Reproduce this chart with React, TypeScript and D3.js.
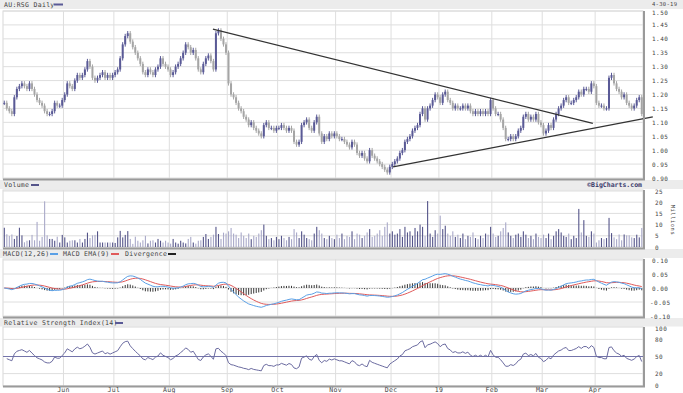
import React from "react";
import * as d3 from "d3";

// ---- Daily closes (AU:RSG) ----
const closeMay = [1.17,1.15,1.14,1.13,1.19,1.22,1.23,1.24,1.23,1.22,1.24,1.22,1.20,1.18,1.17,1.16,1.14,1.13,1.13,1.14,1.17,1.16,1.16,1.18];
const closeJun = [1.20,1.24,1.23,1.22,1.25,1.27,1.26,1.27,1.29,1.32,1.30,1.26,1.25,1.26,1.27,1.28,1.26,1.27,1.26,1.27];
const closeJul = [1.28,1.29,1.33,1.38,1.41,1.42,1.39,1.37,1.35,1.33,1.31,1.28,1.27,1.29,1.28,1.27,1.29,1.30,1.33,1.31,1.30,1.29];
const closeAug = [1.27,1.28,1.30,1.31,1.33,1.35,1.38,1.37,1.35,1.36,1.33,1.29,1.28,1.31,1.33,1.34,1.32,1.29,1.42,1.43,1.40,1.38,1.35];
const closeSep = [1.24,1.20,1.19,1.17,1.15,1.14,1.12,1.11,1.09,1.10,1.08,1.07,1.06,1.05,1.09,1.10,1.08,1.08,1.07,1.08];
const closeOct = [1.08,1.09,1.08,1.07,1.08,1.07,1.03,1.02,1.03,1.09,1.10,1.11,1.08,1.07,1.10,1.12,1.06,1.03,1.05,1.04,1.06,1.05,1.06];
const closeNov = [1.05,1.04,1.04,1.03,1.02,1.01,1.03,1.02,0.99,0.98,0.99,0.97,0.96,1.00,0.98,0.97,0.96,0.95,0.94,0.93,0.92,0.94];
const closeDec = [0.95,0.96,0.97,0.99,1.00,1.03,1.04,1.05,1.07,1.08,1.09,1.13,1.15,1.11,1.15,1.16,1.18,1.20,1.19];
const closeJan = [1.17,1.20,1.21,1.18,1.17,1.15,1.16,1.15,1.15,1.16,1.15,1.16,1.14,1.13,1.14,1.13,1.14,1.13,1.14,1.13,1.18];
const closeFeb = [1.15,1.13,1.13,1.11,1.08,1.04,1.04,1.05,1.04,1.05,1.07,1.08,1.12,1.13,1.11,1.12,1.11,1.13,1.10,1.09];
const closeMar = [1.06,1.07,1.09,1.08,1.11,1.13,1.15,1.16,1.18,1.19,1.17,1.17,1.18,1.19,1.21,1.20,1.22,1.22,1.21,1.24,1.23];
const closeApr = [1.17,1.16,1.16,1.15,1.15,1.26,1.27,1.24,1.22,1.21,1.19,1.20,1.17,1.16,1.15,1.16,1.18,1.19,1.13];

// ---- Daily volume, millions ----
const volMay = [8.6,5.7,4.9,5.6,3.6,4.9,8.6,5.2,2.1,2.8,3.0,5.4,3.0,11.2,2.8,4.5,20.4,5.2,3.6,3.6,2.8,4.6,2.0,5.4];
const volJun = [4.3,2.0,2.8,3.0,3.0,2.0,3.6,2.0,3.6,6.4,4.0,5.2,5.4,7.0,2.0,2.0,2.0,2.0,2.0,2.0];
const volJul = [1.8,4.3,7.2,4.3,5.4,7.1,3.6,1.4,4.6,2.8,2.0,3.0,5.0,1.6,2.8,3.0,2.0,3.6,2.8,2.0,2.8,2.0];
const volAug = [1.5,3.6,2.0,1.5,2.8,2.0,1.6,3.6,4.5,2.0,1.5,2.8,3.0,4.5,5.8,3.6,4.5,5.5,9.0,5.8,3.6,6.4,6.0];
const volSep = [7.0,8.5,6.0,5.5,4.0,6.5,5.0,4.0,6.0,3.5,5.0,4.5,6.0,7.5,10.0,5.0,3.5,4.0,3.0,4.5];
const volOct = [3.5,5.0,4.0,3.0,4.5,3.5,8.0,6.5,4.0,7.0,5.5,4.0,3.5,3.0,6.0,9.0,7.5,6.0,4.0,3.5,5.0,4.0,3.5];
const volNov = [5.5,4.0,6.0,3.5,5.0,4.5,7.0,3.5,6.0,5.5,4.0,5.0,6.5,8.0,4.5,5.0,6.0,7.5,5.0,9.0,11.0,6.0];
const volDec = [7.0,5.5,6.0,8.0,4.5,9.0,6.5,7.0,5.0,8.5,7.0,10.0,9.0,5.0,20.5,6.0,4.5,7.5,6.0];
const volJan = [14.0,8.0,9.5,6.0,5.0,7.0,4.5,5.5,4.0,6.0,3.5,5.0,4.5,6.5,4.0,3.5,5.0,4.0,6.0,5.5,9.0];
const volFeb = [6.0,4.5,5.0,7.0,8.5,11.0,6.5,5.0,4.0,5.5,6.0,4.5,7.0,5.5,4.0,5.0,3.5,6.0,4.5,4.0];
const volMar = [5.5,4.0,6.0,3.5,5.0,7.0,8.0,6.5,5.0,4.5,6.0,3.5,5.0,4.0,17.0,6.5,12.0,5.0,4.5,7.0,6.0];
const volApr = [2.0,3.0,4.0,3.5,4.0,13.0,6.2,4.3,3.5,5.6,3.0,5.6,5.2,5.2,4.3,4.0,5.5,4.3,8.5];

// ---- Axis / tick data ----
const monthLabels = ["Jun", "Jul", "Aug", "Sep", "Oct", "Nov", "Dec", "19", "Feb", "Mar", "Apr"];
const monthStartIdx = [24, 44, 66, 89, 109, 132, 154, 173, 194, 214, 235];
const priceTicks = [1.5, 1.45, 1.4, 1.35, 1.3, 1.25, 1.2, 1.15, 1.1, 1.05, 1.0, 0.95, 0.9];
const volTicks = [25, 20, 15, 10, 5, 0];
const macdTicks = [0.1, 0.05, 0, -0.05, -0.1];
const rsiTicks = [100, 80, 50, 20, 0];
const rsiGrid = [80, 20];
// trend lines: [trading-day index, price]
const upperTrend: [number, number][] = [[82.8, 1.435], [233.6, 1.096]];
const lowerTrend: [number, number][] = [[154.3, 0.94], [257.4, 1.12]];

const closes = [...closeMay, ...closeJun, ...closeJul, ...closeAug, ...closeSep, ...closeOct,
  ...closeNov, ...closeDec, ...closeJan, ...closeFeb, ...closeMar, ...closeApr];
const volumes = [...volMay, ...volJun, ...volJul, ...volAug, ...volSep, ...volOct,
  ...volNov, ...volDec, ...volJan, ...volFeb, ...volMar, ...volApr];

function ema(vals: number[], n: number) {
  const k = 2 / (n + 1);
  const out: number[] = [];
  vals.forEach((v, i) => out.push(i === 0 ? v : v * k + out[i - 1] * (1 - k)));
  return out;
}

export default function App() {
  const N = closes.length;
  const L = 3, R = 643;
  const x = d3.scaleLinear().domain([-0.5, N - 0.5]).range([L, R]);
  const yP = d3.scaleLinear().domain([0.9, 1.5]).range([178, 11]);
  const yV = d3.scaleLinear().domain([0, 25]).range([247, 191]);
  const yM = d3.scaleLinear().domain([-0.1, 0.1]).range([316, 260]);
  const yR = d3.scaleLinear().domain([0, 100]).range([385, 328]);

  // indicators derived from the closes
  const e12 = ema(closes, 12), e26 = ema(closes, 26);
  const macd = closes.map((_, i) => e12[i] - e26[i]);
  const sig = ema(macd, 9);
  const hist = macd.map((m, i) => m - sig[i]);
  const ch = closes.map((c, i) => (i === 0 ? 0 : c - closes[i - 1]));
  let ag = d3.mean(ch.slice(1, 15).map(d => Math.max(d, 0))) as number;
  let al = d3.mean(ch.slice(1, 15).map(d => Math.max(-d, 0))) as number;
  const rsi: [number, number][] = [];
  for (let i = 1; i < N; i++) {
    ag = (ag * 13 + Math.max(ch[i], 0)) / 14;
    al = (al * 13 + Math.max(-ch[i], 0)) / 14;
    rsi.push([i, al === 0 ? 100 : 100 - 100 / (1 + ag / al)]);
  }

  const line = d3.line<[number, number]>();
  const font = "'DejaVu Sans Mono', monospace";
  const txt = "#444";
  const grid = "#dedede";
  const upC = "#5a5a96", dnC = "#a5a5a5";
  const vUp = "#55558a", vDn = "#a9a9c9";

  const panels = [
    { top: 11, bot: 179 },
    { top: 190, bot: 248 },
    { top: 259, bot: 317 },
    { top: 327, bot: 386 },
  ];
  const strips = [
    { y: 0, h: 9 }, { y: 180, h: 9 }, { y: 249, h: 9 }, { y: 318, h: 8.5 },
  ];

  const labelX = 652;

  return (
    <svg width={683} height={393} style={{ position: "absolute", left: 0, top: 0, background: "#fff" }}
      fontFamily={font}>
      <rect x={0} y={0} width={683} height={393} fill="#fff" />
      {strips.map((s, i) => <rect key={i} x={0} y={s.y} width={683} height={s.h} fill="#ececec" />)}

      {/* panel frames + month grid */}
      {panels.map((p, i) => (
        <g key={i}>
          <rect x={L} y={p.top} width={R - L} height={p.bot - p.top} fill="#fff" stroke="#d8d8d8" strokeWidth={1} />
          {monthStartIdx.map((m, j) => (
            <line key={j} x1={x(m - 0.5)} x2={x(m - 0.5)} y1={p.top} y2={p.bot} stroke={grid} strokeWidth={1} />
          ))}
        </g>
      ))}

      {/* horizontal grids */}
      {priceTicks.map((t, i) => <line key={"pg" + i} x1={L} x2={R} y1={yP(t)} y2={yP(t)} stroke={grid} />)}
      {volTicks.map((t, i) => <line key={"vg" + i} x1={L} x2={R} y1={yV(t)} y2={yV(t)} stroke={grid} />)}
      {macdTicks.map((t, i) => <line key={"mg" + i} x1={L} x2={R} y1={yM(t)} y2={yM(t)} stroke={grid} />)}
      {rsiGrid.map((t, i) => <line key={"rg" + i} x1={L} x2={R} y1={yR(t)} y2={yR(t)} stroke={grid} />)}

      {/* price bars */}
      {closes.map((c, i) => {
        const o = i === 0 ? c : closes[i - 1];
        const up = c >= o;
        const col = up ? upC : dnC;
        const cx = x(i);
        const hi = Math.max(o, c) + 0.008, lo = Math.min(o, c) - 0.008;
        const yt = yP(Math.max(o, c)), yb = yP(Math.min(o, c));
        return (
          <g key={"b" + i}>
            <line x1={cx} x2={cx} y1={yP(hi)} y2={yP(lo)} stroke={col} strokeWidth={1} />
            <rect x={cx - 1} y={yt} width={2} height={Math.max(1, yb - yt)} fill={col} />
          </g>
        );
      })}

      {/* trend lines */}
      <path d={line(upperTrend.map(([i, p]) => [x(i), yP(p)] as [number, number])) || ""} stroke="#333" strokeWidth={1.3} fill="none" />
      <path d={line(lowerTrend.map(([i, p]) => [x(i), yP(p)] as [number, number])) || ""} stroke="#333" strokeWidth={1.3} fill="none" />

      {/* volume */}
      {volumes.map((v, i) => {
        const up = i === 0 ? true : closes[i] >= closes[i - 1];
        return <rect key={"v" + i} x={x(i) - 0.5} y={yV(v)} width={1.1} height={yV(0) - yV(v)} fill={up ? vUp : vDn} />;
      })}

      {/* MACD */}
      {hist.map((h, i) => (
        <line key={"h" + i} x1={x(i)} x2={x(i)} y1={yM(0)} y2={yM(h)} stroke="#222" strokeWidth={0.9} />
      ))}
      <path d={line(sig.map((v, i) => [x(i), yM(v)] as [number, number])) || ""} stroke="#e05a5a" strokeWidth={1} fill="none" />
      <path d={line(macd.map((v, i) => [x(i), yM(v)] as [number, number])) || ""} stroke="#5aa0e6" strokeWidth={1} fill="none" />

      {/* RSI */}
      <line x1={L} x2={R} y1={yR(50)} y2={yR(50)} stroke="#7474aa" strokeWidth={1} />
      <path d={line(rsi.map(([i, v]) => [x(i), yR(v)] as [number, number])) || ""} stroke="#6b6ba0" strokeWidth={1} fill="none" />

      {/* panel shadow borders (right & bottom) */}
      {panels.map((p, i) => (
        <g key={"s" + i}>
          <line x1={R + 1} x2={R + 1} y1={p.top} y2={p.bot + 1} stroke="#9a9a9a" strokeWidth={2} />
          <line x1={L} x2={R + 2} y1={p.bot + 0.5} y2={p.bot + 0.5} stroke="#9a9a9a" strokeWidth={2} />
        </g>
      ))}

      {/* right axis labels */}
      <g fontSize={6} fill={txt} letterSpacing={0.5}>
        {priceTicks.map((t, i) => (
          <text key={"pl" + i} x={labelX} y={yP(t) + (i === 0 ? 1 : 0)} dominantBaseline="central">{t.toFixed(2)}</text>
        ))}
        {volTicks.map((t, i) => (
          <text key={"vl" + i} x={labelX + 3} y={yV(t)} dominantBaseline="central">{t}</text>
        ))}
        {macdTicks.map((t, i) => (
          <text key={"ml" + i} x={t < 0 ? labelX - 2 : labelX} y={yM(t)} dominantBaseline="central">{t.toFixed(2)}</text>
        ))}
        {rsiTicks.map((t, i) => (
          <text key={"rl" + i} x={labelX + 3} y={yR(t)} dominantBaseline="central">{t}</text>
        ))}
        <text x={673} y={220} transform="rotate(90 673 220)" textAnchor="middle" dominantBaseline="central" fontSize={5.5}>Millions</text>
      </g>

      {/* month labels */}
      <g fontSize={6.5} fill={txt} textAnchor="middle" letterSpacing={0.3}>
        {monthLabels.map((m, i) => (
          <text key={"xl" + i} x={x(monthStartIdx[i] - 0.5)} y={390} dominantBaseline="central">{m}</text>
        ))}
      </g>

      {/* headers */}
      <g fontSize={6.5} fill={txt} dominantBaseline="central" letterSpacing={0.3}>
        <text x={4} y={4.5}>AU:RSG Daily</text>
        <rect x={54} y={3.5} width={9} height={2} fill={upC} />
        <text x={652} y={3.5} fontSize={5.5}>4-30-19</text>

        <text x={4} y={185}>Volume</text>
        <rect x={31} y={184} width={8} height={2} fill={vUp} />
        <text x={642} y={185} textAnchor="end" fontWeight="bold" fill="#3a3a6a" letterSpacing={0}>©BigCharts.com</text>

        <text x={3} y={254}>MACD(12,26)</text>
        <rect x={50} y={253} width={8} height={2} fill="#5aa0e6" />
        <text x={63} y={254}>MACD EMA(9)</text>
        <rect x={111} y={253} width={8} height={2} fill="#e05a5a" />
        <text x={125} y={254}>Divergence</text>
        <rect x={168} y={253} width={8} height={2} fill="#222" />

        <text x={4} y={323}>Relative Strength Index(14)</text>
        <rect x={115} y={322} width={8} height={2} fill={upC} />
      </g>
    </svg>
  );
}
